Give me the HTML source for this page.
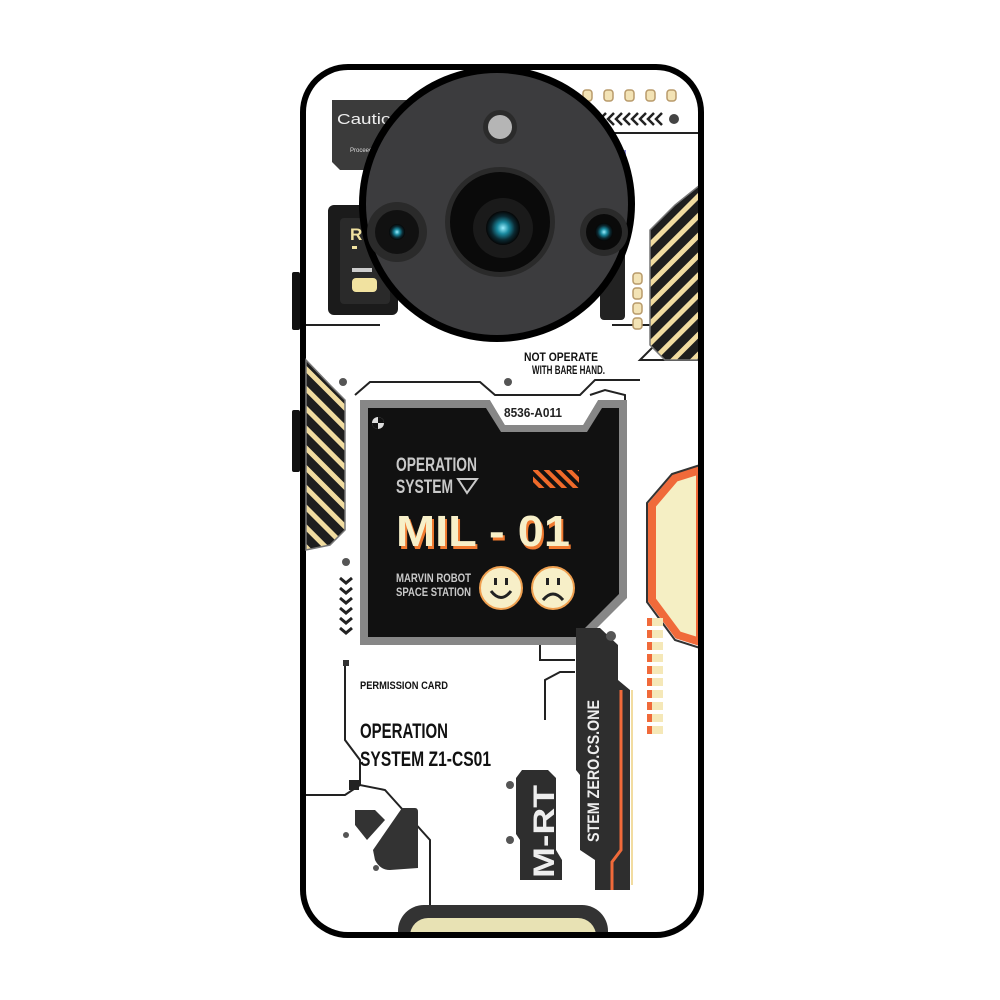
<!DOCTYPE html>
<html><head><meta charset="utf-8"><style>
html,body{margin:0;padding:0;background:#fff;width:1000px;height:1000px;overflow:hidden}
svg{display:block}
text{font-family:"Liberation Sans Narrow","Liberation Sans",sans-serif}
</style></head><body>
<svg width="1000" height="1000" viewBox="0 0 1000 1000" xmlns="http://www.w3.org/2000/svg">
<defs>
<pattern id="st" width="14" height="14" patternUnits="userSpaceOnUse" patternTransform="rotate(-45)">
<rect width="14" height="14" fill="#1e1e1e"/><rect y="0" width="14" height="5" fill="#f1dca0"/>
</pattern>
<pattern id="st2" width="14" height="14" patternUnits="userSpaceOnUse" patternTransform="rotate(45)">
<rect width="14" height="14" fill="#1e1e1e"/><rect y="0" width="14" height="5" fill="#f1dca0"/>
</pattern>
<pattern id="ost" width="8" height="8" patternUnits="userSpaceOnUse" patternTransform="rotate(45)">
<rect width="8" height="8" fill="#111"/><rect width="8" height="4" fill="#f06a2a"/>
</pattern>
<radialGradient id="lens" cx="50%" cy="50%" r="50%">
<stop offset="0" stop-color="#9ef"/><stop offset="0.35" stop-color="#1a8aa0"/><stop offset="0.7" stop-color="#0b2a33"/><stop offset="1" stop-color="#050505"/>
</radialGradient>
<clipPath id="inner"><rect x="305" y="70" width="393" height="862" rx="42"/></clipPath>
</defs>

<rect x="292" y="272" width="8" height="58" rx="2" fill="#111"/>
<rect x="292" y="410" width="8" height="62" rx="2" fill="#111"/>

<rect x="300" y="64" width="404" height="874" rx="48" fill="#000"/>
<rect x="306" y="70" width="392" height="862" rx="42" fill="#fff"/>

<g clip-path="url(#inner)">
<g fill="none" stroke="#222" stroke-width="2">
<path d="M480 70 L498 95"/>
<path d="M575 133 L698 133"/>
<path d="M306 325 L380 325"/>
<path d="M612 325 L655 325 L655 345 L640 360 L700 360"/>
<path d="M355 395 L370 382 L480 382 L495 395 L580 395 L595 380 L640 380"/>
<path d="M590 395 L605 390 L625 395 L625 440 L610 440"/>
<path d="M345 660 L345 740 L360 760 L360 785"/>
<path d="M306 795 L345 795 L360 785 L385 790 L430 840 L430 910"/>
<path d="M540 640 L540 660 L575 660"/>
<path d="M545 720 L545 680 L560 672 L575 672"/>
</g>

<path d="M332 100 L440 100 L440 160 L390 160 L375 170 L340 170 L332 162 Z" fill="#3b3b3b"/>
<text x="337" y="124" font-family="Liberation Sans" font-size="15" fill="#eee" textLength="70" lengthAdjust="spacingAndGlyphs">Caution:</text>
<path d="M418 102 L428 100 L440 115 L425 118 Z" fill="#a8d4ef"/>
<text x="350" y="152" font-family="Liberation Sans" font-size="6" fill="#ddd">Proceed w</text>

<rect x="328" y="205" width="70" height="110" rx="6" fill="#1b1b1b"/>
<rect x="340" y="218" width="50" height="86" rx="4" fill="#2a2a2a"/>
<text x="350" y="240" font-size="17" font-weight="bold" fill="#f1e2a0">R</text>
<rect x="352" y="246" width="5" height="3" fill="#f1e2a0"/>
<rect x="352" y="268" width="20" height="4" fill="#ccc"/>
<rect x="352" y="278" width="25" height="14" rx="4" fill="#f1e2a0"/>

<rect x="600" y="150" width="25" height="170" rx="4" fill="#222"/>
<rect x="616" y="150" width="10" height="40" fill="#8a8ad8"/>

<g fill="#f3e3b5" stroke="#b89a6a" stroke-width="1.5">
<rect x="539" y="90" width="9" height="11" rx="3"/><rect x="562" y="90" width="9" height="11" rx="3"/><rect x="583" y="90" width="9" height="11" rx="3"/>
<rect x="604" y="90" width="9" height="11" rx="3"/><rect x="625" y="90" width="9" height="11" rx="3"/>
<rect x="646" y="90" width="9" height="11" rx="3"/><rect x="667" y="90" width="9" height="11" rx="3"/>
<rect x="633" y="273" width="9" height="11" rx="3"/><rect x="633" y="288" width="9" height="11" rx="3"/>
<rect x="633" y="303" width="9" height="11" rx="3"/><rect x="633" y="318" width="9" height="11" rx="3"/>
</g>
<g fill="none" stroke="#222" stroke-width="2.5">
<path d="M590 113 l-6 6 l6 6"/><path d="M598 113 l-6 6 l6 6"/><path d="M606 113 l-6 6 l6 6"/><path d="M614 113 l-6 6 l6 6"/>
<path d="M622 113 l-6 6 l6 6"/><path d="M630 113 l-6 6 l6 6"/><path d="M638 113 l-6 6 l6 6"/><path d="M646 113 l-6 6 l6 6"/>
<path d="M654 113 l-6 6 l6 6"/><path d="M662 113 l-6 6 l6 6"/>
</g>
<circle cx="674" cy="119" r="5" fill="#444"/>

<path d="M700 185 L675 205 L650 230 L650 345 L665 360 L700 360 Z" fill="url(#st)" stroke="#777" stroke-width="1.5"/>
<path d="M306 360 L330 385 L345 400 L345 530 L330 545 L306 550 Z" fill="url(#st2)" stroke="#777" stroke-width="1.5"/>

<path d="M700 470 L675 478 L652 505 L652 600 L678 635 L700 642 Z" fill="#f5efc4" stroke="#f06a3a" stroke-width="8"/>
<path d="M700 465 L672 474 L647 503 L647 602 L675 640 L700 648" fill="none" stroke="#333" stroke-width="2"/>

<g>
<rect x="647" y="618" width="16" height="8" fill="#f5e8b8"/><rect x="647" y="618" width="5" height="8" fill="#f06a3a"/>
<rect x="647" y="630" width="16" height="8" fill="#f5e8b8"/><rect x="647" y="630" width="5" height="8" fill="#f06a3a"/>
<rect x="647" y="642" width="16" height="8" fill="#f5e8b8"/><rect x="647" y="642" width="5" height="8" fill="#f06a3a"/>
<rect x="647" y="654" width="16" height="8" fill="#f5e8b8"/><rect x="647" y="654" width="5" height="8" fill="#f06a3a"/>
<rect x="647" y="666" width="16" height="8" fill="#f5e8b8"/><rect x="647" y="666" width="5" height="8" fill="#f06a3a"/>
<rect x="647" y="678" width="16" height="8" fill="#f5e8b8"/><rect x="647" y="678" width="5" height="8" fill="#f06a3a"/>
<rect x="647" y="690" width="16" height="8" fill="#f5e8b8"/><rect x="647" y="690" width="5" height="8" fill="#f06a3a"/>
<rect x="647" y="702" width="16" height="8" fill="#f5e8b8"/><rect x="647" y="702" width="5" height="8" fill="#f06a3a"/>
<rect x="647" y="714" width="16" height="8" fill="#f5e8b8"/><rect x="647" y="714" width="5" height="8" fill="#f06a3a"/>
<rect x="647" y="726" width="16" height="8" fill="#f5e8b8"/><rect x="647" y="726" width="5" height="8" fill="#f06a3a"/>
</g>

<text x="524" y="361" font-size="12" font-weight="bold" fill="#111" textLength="74" lengthAdjust="spacingAndGlyphs">NOT OPERATE</text>
<text x="532" y="374" font-size="12" font-weight="bold" fill="#111" textLength="73" lengthAdjust="spacingAndGlyphs">WITH BARE HAND.</text>

<g fill="#555"><circle cx="343" cy="382" r="4"/><circle cx="508" cy="382" r="4"/><circle cx="346" cy="562" r="4"/><circle cx="346" cy="835" r="3"/><circle cx="376" cy="868" r="3"/><circle cx="510" cy="785" r="4"/><circle cx="510" cy="840" r="4"/></g>

<g fill="none" stroke="#222" stroke-width="3">
<path d="M340 578 l6 5 l6 -5"/><path d="M340 588 l6 5 l6 -5"/><path d="M340 598 l6 5 l6 -5"/>
<path d="M340 608 l6 5 l6 -5"/><path d="M340 618 l6 5 l6 -5"/><path d="M340 628 l6 5 l6 -5"/>
</g>

<path d="M360 400 L490 400 L505 425 L583 425 L598 400 L627 400 L627 598 L580 645 L360 645 Z" fill="#878787"/>
<path d="M368 408 L486 408 L501 432 L587 432 L602 408 L619 408 L619 594 L576 637 L368 637 Z" fill="#111"/>
<path d="M490 400 L598 400 L583 425 L505 425 Z" fill="#fff"/>
<text x="504" y="417" font-size="13" font-weight="bold" fill="#222" textLength="58" lengthAdjust="spacingAndGlyphs">8536-A011</text>
<circle cx="378" cy="423" r="6" fill="#ddd"/><path d="M378 417 A6 6 0 0 1 384 423 L378 423 Z M378 429 A6 6 0 0 1 372 423 L378 423Z" fill="#111"/>
<text x="396" y="471" font-size="19" font-weight="bold" fill="#c9c9c9" textLength="81" lengthAdjust="spacingAndGlyphs">OPERATION</text>
<text x="396" y="493" font-size="19" font-weight="bold" fill="#c9c9c9" textLength="57" lengthAdjust="spacingAndGlyphs">SYSTEM</text>
<path d="M458 479 L477 479 L467 493 Z" fill="none" stroke="#c9c9c9" stroke-width="2"/>
<rect x="533" y="470" width="46" height="18" fill="url(#ost)"/>
<text x="398" y="549" font-family="Liberation Sans" font-size="44" font-weight="bold" fill="#f07a30" textLength="174" lengthAdjust="spacingAndGlyphs">MIL - 01</text>
<text x="396" y="546" font-family="Liberation Sans" font-size="44" font-weight="bold" fill="#f7efc8" textLength="174" lengthAdjust="spacingAndGlyphs">MIL - 01</text>
<text x="396" y="582" font-size="12" font-weight="bold" fill="#c9c9c9" textLength="75" lengthAdjust="spacingAndGlyphs">MARVIN ROBOT</text>
<text x="396" y="596" font-size="12" font-weight="bold" fill="#c9c9c9" textLength="75" lengthAdjust="spacingAndGlyphs">SPACE STATION</text>
<circle cx="501" cy="588" r="21" fill="#f7efc8" stroke="#f0a050" stroke-width="2"/>
<circle cx="553" cy="588" r="21" fill="#f7efc8" stroke="#f0a050" stroke-width="2"/>
<g fill="#222"><rect x="494" y="578" width="3" height="7"/><rect x="505" y="578" width="3" height="7"/><rect x="546" y="578" width="3" height="7"/><rect x="557" y="578" width="3" height="7"/></g>
<path d="M491 591 Q501 604 511 591" fill="none" stroke="#222" stroke-width="3"/>
<path d="M543 600 Q553 588 563 600" fill="none" stroke="#222" stroke-width="3"/>

<rect x="343" y="660" width="6" height="6" fill="#333"/>
<text x="360" y="689" font-size="11" font-weight="bold" fill="#111" textLength="88" lengthAdjust="spacingAndGlyphs">PERMISSION CARD</text>
<text x="360" y="738" font-size="21" font-weight="bold" fill="#111" textLength="88" lengthAdjust="spacingAndGlyphs">OPERATION</text>
<text x="360" y="766" font-size="21" font-weight="bold" fill="#111" textLength="131" lengthAdjust="spacingAndGlyphs">SYSTEM Z1-CS01</text>
<rect x="349" y="780" width="10" height="10" fill="#222"/>

<path d="M355 810 L375 810 L385 820 L367 840 L355 825 Z" fill="#333"/>
<path d="M402 808 L415 808 Q418 808 418 812 L418 868 L390 870 Q380 870 375 860 L373 850 Z" fill="#333"/>

<path d="M576 628 L600 628 L618 645 L618 680 L630 690 L630 890 L595 890 L595 860 L580 850 L580 775 L576 770 Z" fill="#2e2e2e"/>
<circle cx="611" cy="636" r="5" fill="#555"/>
<path d="M621 690 L621 850 L612 862 L612 890" fill="none" stroke="#f06a3a" stroke-width="3"/>
<path d="M632 690 L632 885" stroke="#f2dca0" stroke-width="2"/>
<text transform="translate(599 842) rotate(-90)" font-size="17" font-weight="bold" fill="#eee" textLength="142" lengthAdjust="spacingAndGlyphs">STEM ZERO.CS.ONE</text>

<path d="M522 770 L548 770 L556 778 L556 850 L562 860 L562 880 L520 880 L520 840 L516 834 L516 778 Z" fill="#2e2e2e"/>
<text transform="translate(554 878) rotate(-90)" font-size="30" font-weight="bold" fill="#eee" textLength="93" lengthAdjust="spacingAndGlyphs">M-RT</text>

<rect x="398" y="905" width="210" height="70" rx="26" fill="#333"/>
<rect x="410" y="918" width="186" height="60" rx="18" fill="#e8e2b4"/>
</g>

<circle cx="497" cy="204" r="138" fill="#000"/>
<circle cx="497" cy="204" r="131" fill="#3c3c3e"/>
<circle cx="500" cy="127" r="17" fill="#2b2b2b"/>
<circle cx="500" cy="127" r="12" fill="#b5b5b5"/>
<circle cx="500" cy="222" r="55" fill="#2a2a2a"/>
<circle cx="500" cy="222" r="50" fill="#0a0a0a"/>
<circle cx="503" cy="228" r="30" fill="#1a1a1a"/>
<circle cx="503" cy="228" r="17" fill="url(#lens)"/>
<circle cx="397" cy="232" r="30" fill="#2a2a2a"/>
<circle cx="397" cy="232" r="22" fill="#111"/>
<circle cx="397" cy="232" r="8" fill="url(#lens)"/>
<circle cx="604" cy="232" r="24" fill="#2a2a2a"/>
<circle cx="604" cy="232" r="18" fill="#0a0a0a"/>
<circle cx="604" cy="232" r="9" fill="url(#lens)"/>
</svg>
</body></html>
